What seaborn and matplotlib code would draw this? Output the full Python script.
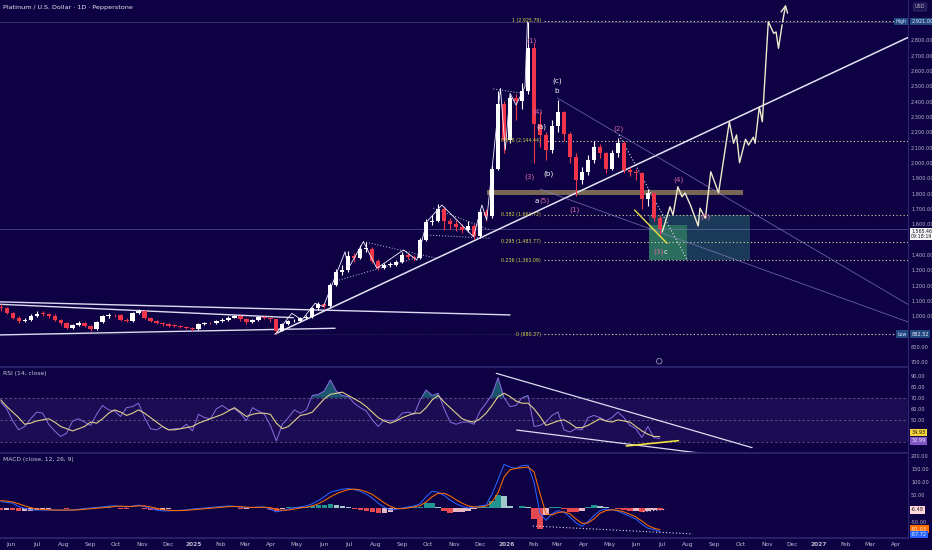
import numpy as np
import pandas as pd
import matplotlib
matplotlib.use("Agg")
import matplotlib.pyplot as plt
import matplotlib.dates as mdates
from matplotlib.transforms import blended_transform_factory as btf
import seaborn as sns

# ---------------- data (weekly) ----------------
START = "2024-05-20"
FIRST_OPEN = 1060
closes = [1050, 1020, 990, 965, 975, 1000, 1015, 1012, 1003, 975,
          952, 922, 940, 955, 935, 912, 960, 997, 1005, 1004,
          975, 968, 1017, 1035, 990, 968, 953, 945, 938, 934,
          930, 920, 912, 945, 955, 952, 965, 976, 990, 1000,
          978, 958, 975, 992, 988, 978, 905, 945, 965, 970,
          985, 995, 1050, 1080, 1062, 1200, 1290, 1300, 1390, 1380,
          1440, 1440, 1360, 1315, 1333, 1335, 1354, 1400, 1385, 1376,
          1496, 1610, 1620, 1700, 1620, 1600, 1580, 1560, 1590, 1520,
          1680, 1650, 1960, 2380, 2150, 2420, 2400, 2470, 2750, 2250,
          2180, 2080, 2240, 2330, 2190, 2040, 1890, 1940, 2020, 2100,
          2060, 1960, 2060, 2130, 1950, 1940, 1930, 1760, 1800, 1640,
          1565.46]
highs = [1075, 1058, 1028, 998, 988, 1010, 1030, 1032, 1022, 1010,
         980, 958, 950, 965, 962, 940, 968, 1005, 1018, 1015,
         1010, 985, 1025, 1048, 1040, 995, 975, 960, 952, 945,
         942, 936, 928, 952, 962, 963, 972, 985, 998, 1008,
         1004, 984, 982, 1000, 1000, 995, 982, 952, 972, 980,
         992, 1005, 1060, 1092, 1088, 1215, 1305, 1330, 1425, 1410,
         1465, 1480, 1448, 1370, 1345, 1350, 1365, 1415, 1412, 1395,
         1510, 1630, 1660, 1730, 1710, 1640, 1625, 1600, 1620, 1600,
         1700, 1700, 1985, 2470, 2400, 2440, 2450, 2520, 2921, 2780,
         2330, 2200, 2280, 2409, 2340, 2200, 2060, 1970, 2050, 2140,
         2120, 2070, 2080, 2160, 2140, 1975, 1960, 1940, 1830, 1810,
         1660]
lows = [1035, 1010, 982, 955, 958, 970, 995, 1002, 990, 965,
        942, 912, 915, 932, 928, 905, 908, 955, 990, 992,
        968, 958, 962, 1010, 982, 960, 945, 938, 930, 925,
        922, 912, 905, 908, 940, 945, 946, 960, 970, 985,
        970, 950, 952, 970, 980, 960, 882.52, 900, 940, 958,
        964, 978, 990, 1042, 1050, 1058, 1195, 1270, 1290, 1355,
        1372, 1420, 1345, 1300, 1305, 1320, 1325, 1348, 1370, 1360,
        1370, 1490, 1595, 1610, 1560, 1570, 1555, 1540, 1545, 1505,
        1510, 1620, 1640, 1950, 2060, 2130, 2280, 2350, 2450, 1998,
        2100, 2020, 2060, 2200, 2140, 2000, 1780, 1860, 1920, 2000,
        2030, 1930, 1950, 2040, 1930, 1910, 1890, 1700, 1720, 1620,
        1530]
rsi = [66, 60, 49, 41, 44, 51, 57, 56, 46, 40,
       35, 38, 49, 51, 48, 45, 55, 63, 59, 58,
       53, 61, 62, 65, 52, 42, 41, 44, 41, 42,
       42, 46, 40, 55, 52, 51, 60, 63, 59, 60,
       56, 49, 61, 58, 55, 45, 31, 46, 52, 59,
       56, 59, 72, 73, 76, 86, 76, 72, 71, 65,
       61, 58, 50, 44, 50, 49, 50, 56, 57, 55,
       68, 77, 72, 74, 60, 48, 46, 48, 48, 46,
       58, 65, 73, 88, 70, 62, 63, 70, 72, 44,
       45, 48, 54, 57, 41, 39, 42, 41, 52, 54,
       52, 49, 52, 57, 52, 45, 42, 34, 44, 34,
       32.99]
rsi_ma = [68, 62, 57, 52, 46, 47, 49, 50, 51, 48,
          44, 42, 40, 42, 44, 48, 47, 51, 56, 59,
          57, 54, 56, 59, 56, 52, 48, 44, 41, 41,
          42, 43, 44, 47, 49, 51, 53, 55, 58, 61,
          57, 53, 55, 56, 56, 55, 47, 42, 44, 49,
          54, 55, 57, 63, 69, 73, 74, 75, 72, 69,
          66, 62, 57, 52, 49, 47, 49, 52, 54, 56,
          56, 61, 68, 72, 66, 61, 56, 51, 49, 48,
          51, 56, 63, 71, 74, 71, 67, 65, 65, 60,
          53, 45, 47, 49, 50, 47, 43, 43, 45, 48,
          51, 49, 48, 50, 49, 48, 44, 40, 37, 35,
          34.93]
macd = [26, 24, 20, 8, 0, -5, -6, -6, -6, -6,
        -6, -7, -6, -3, 0, 2, 4, 6, 9, 10,
        8, 6, 9, 13, 8, 0, -6, -9, -9, -8,
        -7, -5, -2, 0, 2, 4, 6, 8, 10, 8,
        5, 3, 4, 6, 5, -3, -13, -8, -2, 3,
        6, 10, 18, 30, 45, 62, 68, 74, 76, 72,
        66, 55, 40, 20, 5, -5, -3, 2, 6, 10,
        18, 45, 66, 62, 50, 32, 18, 8, 2, 5,
        10, 13, 55, 110, 168, 158, 153, 164, 165, 100,
        -20, -45, -20, -8, -15, -32, -55, -68, -50, -28,
        -8, -2, -5, -10, -20, -30, -40, -60, -75, -80,
        -87.72]
signal = [30, 28, 25, 18, 10, 3, -2, -4, -5, -6,
          -6, -6, -6, -5, -3, -1, 1, 3, 5, 8,
          9, 8, 8, 10, 10, 6, 1, -4, -7, -8,
          -8, -7, -5, -3, -1, 1, 3, 5, 7, 8,
          7, 5, 4, 4, 5, 3, -3, -7, -6, -2,
          2, 5, 10, 18, 30, 44, 56, 65, 72, 74,
          71, 64, 54, 38, 22, 8, 0, -1, 2, 6,
          11, 25, 45, 58, 58, 48, 33, 20, 10, 6,
          6, 9, 25, 60, 120, 148, 153, 156, 158, 140,
          57, -20, -25, -15, -13, -20, -40, -57, -55, -40,
          -18, -8, -5, -7, -13, -22, -32, -48, -65, -75,
          -81.03]

fib_prices = [2925.79, 2144.44, 1661.72, 1483.77, 1363.09, 880.37]
fib_labels = ["1 (2,925.79)", "0.618 (2,144.44)", "0.382 (1,661.72)",
              "0.295 (1,483.77)", "0.236 (1,363.09)", "0 (880.37)"]

# projected path (week offset, price)
proj_w = [110.4, 111.7, 112.2, 113.0, 113.7, 114.2, 115.1, 116.4, 116.7, 117.6,
          118.5, 119.8, 121.6, 122.3, 122.8, 123.3, 124.3, 124.8, 125.6, 125.9,
          126.6, 127.1, 128.1, 129.0, 129.4, 129.8, 130.4]
proj_p = [1548, 1713, 1659, 1843, 1778, 1802, 1724, 1587, 1703, 1637,
          1941, 1804, 2267, 2127, 2181, 2000, 2153, 2115, 2166, 2127,
          2365, 2267, 2920, 2844, 2853, 2746, 2900]

# elliott wave overlay (week offset, price)
wave_w = [45.96, 48.58, 50.25, 52.47, 53.85, 57.47, 58.03, 60.53, 62.77, 67.21,
          69.45, 71.12, 73.62, 78.9, 80.3, 81.1, 83.4, 84.2, 85.0, 86.0, 87.5, 87.9]
wave_p = [887, 1018, 974, 1083, 1061, 1419, 1311, 1485, 1311, 1431,
          1365, 1615, 1724, 1517, 1724, 1626, 2485, 2083, 2453, 2376, 2496, 2918]

wave_text = ["(1)", "(4)", "(a)", "(c)", "b", "(3)", "(b)", "a", "(5)", "(1)",
             "(2)", "(4)", "(5)", "(3)", "c"]
wave_tw = [88.6, 89.5, 90.3, 92.8, 92.8, 88.2, 91.4, 89.4, 90.7, 95.7,
           103.1, 113.1, 117.6, 109.8, 110.9]
wave_tp = [2796, 2333, 2235, 2535, 2470, 1909, 1926, 1750, 1750, 1691,
           2224, 1892, 1646, 1419, 1419]
wave_pink = [1, 1, 0, 0, 0, 1, 0, 0, 1, 1, 1, 1, 1, 1, 0]

month_labels = ["Jun", "Jul", "Aug", "Sep", "Oct", "Nov", "Dec", "2025", "Feb", "Mar",
                "Apr", "May", "Jun", "Jul", "Aug", "Sep", "Oct", "Nov", "Dec", "2026",
                "Feb", "Mar", "Apr", "May", "Jun", "Jul", "Aug", "Sep", "Oct", "Nov",
                "Dec", "2027", "Feb", "Mar", "Apr"]

price_ticks = [700, 800, 1000, 1100, 1200, 1300, 1400, 1600, 1700, 1800, 1900,
               2000, 2100, 2200, 2300, 2400, 2500, 2600, 2700, 2800]
rsi_ticks = [50, 60, 70, 80, 90]
macd_ticks = [-50, 50, 100, 150, 200]

# ---------------- style ----------------
BG = "#0e0244"
SEP = "#2c2670"
TXT = "#b8b8cc"
PINK = "#d36ba6"
LAB = 3.6
sns.set_theme(style="dark", rc={"axes.facecolor": BG, "figure.facecolor": BG})
plt.rcParams["font.family"] = ["DejaVu Sans"]

n = len(closes)
dates = pd.date_range(START, periods=n, freq="7D")
xd = mdates.date2num(dates)
x0 = mdates.date2num(pd.Timestamp(START))
W = lambda w: x0 + 7 * np.asarray(w, dtype=float)
opens = np.array([FIRST_OPEN] + closes[:-1], dtype=float)
c = np.array(closes, dtype=float)
jun1 = mdates.date2num(pd.Timestamp("2024-06-01"))
XLIM = (jun1 - 12.85, jun1 + 1047.9)

fig = plt.figure(figsize=(9.32, 5.5), dpi=100)
axp = fig.add_axes([0, 0.33273, 0.97425, 0.66727])
axr = fig.add_axes([0, 0.17636, 0.97425, 0.15636])
axm = fig.add_axes([0, 0.021818, 0.97425, 0.15455])

for ax in (axp, axr, axm):
    ax.set_facecolor(BG)
    ax.grid(False)
    ax.set_xlim(*XLIM)
    for s in ("left", "bottom", "top"):
        ax.spines[s].set_visible(False)
    ax.spines["right"].set_color(SEP)
    ax.spines["right"].set_linewidth(0.8)
    ax.yaxis.tick_right()
    ax.tick_params(axis="y", length=0, pad=2.2, labelsize=LAB, labelcolor=TXT)
    ax.tick_params(axis="x", length=0, pad=3, labelsize=4.2, labelcolor=TXT)
axr.spines["top"].set_visible(True); axr.spines["top"].set_color(SEP)
axm.spines["top"].set_visible(True); axm.spines["top"].set_color(SEP)
axm.spines["bottom"].set_visible(True); axm.spines["bottom"].set_color(SEP)

box = lambda fc: dict(boxstyle="square,pad=0.25", fc=fc, ec="none")

# ---------------- price panel ----------------
axp.set_ylim(667.3, 3061.3)
axp.set_yticks(price_ticks)
axp.set_yticklabels([f"{v:,.2f}" for v in price_ticks])
axp.set_xticks([])

# zones
axp.fill_between(W([81.2, 123.9]), 1791, 1822, color="#8c7a58", alpha=0.85, lw=0, zorder=1)
axp.fill_between(W([108.2, 125.1]), 1363.09, 1661.72, color="#2f8a78", alpha=0.42, lw=0, zorder=1)
axp.fill_between(W([108.2, 114.5]), 1363.09, 1594, color="#3fae62", alpha=0.45, lw=0, zorder=1)

# high / low / last price lines
axp.axhline(2921, color="#9090b0", lw=0.5, alpha=0.45, zorder=1)
axp.axhline(882.52, color="#9090b0", lw=0.5, alpha=0.45, ls=(0, (1, 2)), zorder=1)
axp.axhline(closes[-1], color="#8e88d0", lw=0.5, alpha=0.6, zorder=1)

# fib levels
for fp, fl in zip(fib_prices, fib_labels):
    axp.plot([W(90.6), XLIM[1]], [fp, fp], color="#d8d8a8", lw=0.8, ls=(0, (1, 2.2)), zorder=2)
    axp.text(W(90.2), fp, fl, color="#d2d24e", fontsize=3.4, ha="right", va="center", zorder=6)

# trend lines
tl = dict(color="#dcdcf0", lw=1.0, zorder=2)
axp.plot(W([-1, 85.0]), [1093, 1007], **tl)
axp.plot(W([-1, 48.8]), [1078, 989], **tl)
axp.plot(W([-1, 55.8]), [876, 920], **tl)
axp.plot(W([45.8, 153]), [883, 2846], color="#e4e4f4", lw=1.1, zorder=2)
axp.plot(W([92.9, 152]), [2422, 1062], color="#8a86c8", lw=0.6, alpha=0.7, zorder=2)
axp.plot(W([90.0, 152]), [1828, 953], color="#8a86c8", lw=0.6, alpha=0.7, zorder=2)
axp.plot(W([103.2, 114.6]), [2181, 1365], color="#e0e0f0", lw=0.8, ls=(0, (1, 1.8)), zorder=2)
dot = dict(color="#c8c8e0", lw=0.7, ls=(0, (1, 2)), zorder=2)
axp.plot(W([60.5, 72.8]), [1485, 1376], **dot)
axp.plot(W([55.5, 70.0]), [1224, 1387], **dot)
axp.plot(W([72.2, 81.7]), [1704, 1561], **dot)
axp.plot(W([71.2, 81.7]), [1528, 1507], **dot)
axp.plot(W([82.2, 86.7]), [2481, 2455], **dot)
axp.plot(W([105.8, 111.2]), [1691, 1474], color="#e8e040", lw=1.0, zorder=5)

# candles
cols = np.where(c >= opens, "#ffffff", "#f0344a")
axp.vlines(xd, lows, highs, colors=cols, lw=0.8, zorder=3)
body = np.maximum(np.abs(c - opens), 5)
axp.bar(xd, body, bottom=np.minimum(c, opens), width=5.0, color=cols, lw=0, zorder=4)

# wave overlay & projection
sns.lineplot(x=W(wave_w), y=wave_p, ax=axp, color="#f2f2ff", lw=0.6, sort=False,
             estimator=None, legend=False, zorder=4)
sns.lineplot(x=W(proj_w), y=proj_p, ax=axp, color="#efeacc", lw=1.0, sort=False,
             estimator=None, legend=False, zorder=5)
axp.annotate("", xy=(W(131.1), 3050), xytext=(W(130.4), 2900),
             arrowprops=dict(arrowstyle="->", color="#efeacc", lw=1.0), zorder=5)

for t, tw, tp, pk in zip(wave_text, wave_tw, wave_tp, wave_pink):
    axp.text(W(tw), tp, t, color=PINK if pk else "#f4f4f4", fontsize=5.2,
             ha="center", va="center", zorder=7)
axp.scatter([W(109.9)], [705], s=16, facecolor="none", edgecolor="#9090b0", lw=0.6,
            zorder=6, clip_on=False)

tp_ = btf(axp.transAxes, axp.transData)
axp.text(0.9985, 2921, "High", transform=tp_, fontsize=3.4, color="#d8e4ff", ha="right",
         va="center", bbox=box("#23487f"), zorder=8)
axp.text(1.0035, 2921, "2,921.00", transform=tp_, fontsize=LAB, color="#e8eeff", ha="left",
         va="center", bbox=box("#23487f"), zorder=8, clip_on=False)
axp.text(0.9985, 882.52, "Low", transform=tp_, fontsize=3.4, color="#d8e4ff", ha="right",
         va="center", bbox=box("#23487f"), zorder=8)
axp.text(1.0035, 882.52, "882.52", transform=tp_, fontsize=LAB, color="#e8eeff", ha="left",
         va="center", bbox=box("#23487f"), zorder=8, clip_on=False)
axp.text(1.0035, 1535, "1,565.46\n09:18:19", transform=tp_, fontsize=3.4, color="#131722",
         ha="left", va="center", linespacing=1.1,
         bbox=box("#f4f4f6"), zorder=8, clip_on=False)

# ---------------- RSI panel ----------------
axr.set_ylim(20.07, 97.7)
axr.set_yticks(rsi_ticks)
axr.set_yticklabels([f"{v:.2f}" for v in rsi_ticks])
axr.set_xticks([])
axr.axhspan(30, 70, color="#7e57c2", alpha=0.12, lw=0)
for lv in (70, 50, 30):
    axr.axhline(lv, color="#8a8aa0", lw=0.55, ls=(0, (3, 3)), alpha=0.7)
r = np.array(rsi, dtype=float)
axr.fill_between(xd, r, 70, where=r > 70, interpolate=True, color="#2aa89a", alpha=0.5, lw=0)
sns.lineplot(x=xd, y=rsi, ax=axr, color="#8a6ee0", lw=0.7, legend=False)
sns.lineplot(x=xd, y=rsi_ma, ax=axr, color="#e0cf8c", lw=0.8, legend=False)
axr.plot(W([82.7, 125.4]), [92, 24.9], color="#dcdcf0", lw=0.9)
axr.plot(W([86.1, 116.9]), [40.8, 19.8], color="#dcdcf0", lw=0.9)
axr.plot(W([104.4, 113.1]), [26.4, 31.2], color="#f0e040", lw=1.2)
tr = btf(axr.transAxes, axr.transData)
axr.text(1.0035, 38.6, "34.93", transform=tr, fontsize=LAB, color="#111111", ha="left",
         va="center", bbox=box("#f5d33a"), clip_on=False)
axr.text(1.0035, 31.0, "32.99", transform=tr, fontsize=LAB, color="#ece6ff", ha="left",
         va="center", bbox=box("#7e57c2"), clip_on=False)

# ---------------- MACD panel ----------------
axm.set_ylim(-112.6, 211.8)
axm.set_yticks(macd_ticks)
axm.set_yticklabels([f"{v:.2f}" for v in macd_ticks])
m = np.array(macd, dtype=float)
s = np.array(signal, dtype=float)
h = m - s
hc = []
for i, v in enumerate(h):
    prev = h[i - 1] if i else 0
    if v >= 0:
        hc.append("#26a69a" if v >= prev else "#b2dfdb")
    else:
        hc.append("#ff5252" if v < prev else "#ffcdd2")
axm.bar(xd, h, width=6.2, color=hc, lw=0, alpha=0.9)
sns.lineplot(x=xd, y=macd, ax=axm, color="#2962ff", lw=0.75, legend=False)
sns.lineplot(x=xd, y=signal, ax=axm, color="#ff6d00", lw=0.75, legend=False)
axm.plot(W([88.8, 115.5]), [-66.8, -97], color="#e0e0f0", lw=0.8, ls=(0, (1, 2)))
axm.plot(W([107.2, 111.1]), [-12, -3], color="#e0e0f0", lw=0.8, ls=(0, (1, 2)))
tm = btf(axm.transAxes, axm.transData)
axm.text(1.0035, -5.7, "-6.48", transform=tm, fontsize=LAB, color="#222222", ha="left",
         va="center", bbox=box("#ffd6dc"), clip_on=False)
axm.text(1.0035, -79, "-81.03", transform=tm, fontsize=LAB, color="#fff0e0", ha="left",
         va="center", bbox=box("#ff6d00"), clip_on=False)
axm.text(1.0035, -100, "-87.72", transform=tm, fontsize=LAB, color="#e6ecff", ha="left",
         va="center", bbox=box("#2962ff"), clip_on=False)

mpos = mdates.date2num(pd.date_range("2024-06-01", "2027-04-01", freq="MS"))
axm.set_xticks(mpos)
axm.set_xticklabels(month_labels)
for lbl in axm.get_xticklabels():
    if lbl.get_text().startswith("20"):
        lbl.set_fontweight("bold")
axm.set_xlim(*XLIM)

# ---------------- titles ----------------
fig.text(3 / 932, 1 - 7 / 550, "Platinum / U.S. Dollar \u00b7 1D \u00b7 Pepperstone",
         color="#e6e6f0", fontsize=4.6, va="center", ha="left")
fig.text(3 / 932, 1 - 374 / 550, "RSI (14, close)", color="#c8c8d8", fontsize=4.3, va="center")
fig.text(3 / 932, 1 - 460 / 550, "MACD (close, 12, 26, 9)", color="#c8c8d8", fontsize=4.3,
         va="center")
fig.text(920 / 932, 1 - 7 / 550, "USD", color="#b8b8cc", fontsize=3.6, ha="center", va="center",
         bbox=dict(boxstyle="round,pad=0.3", fc="#1c1650", ec="#3a3480", lw=0.5))

fig.savefig("out.png", dpi=100, facecolor=BG)
